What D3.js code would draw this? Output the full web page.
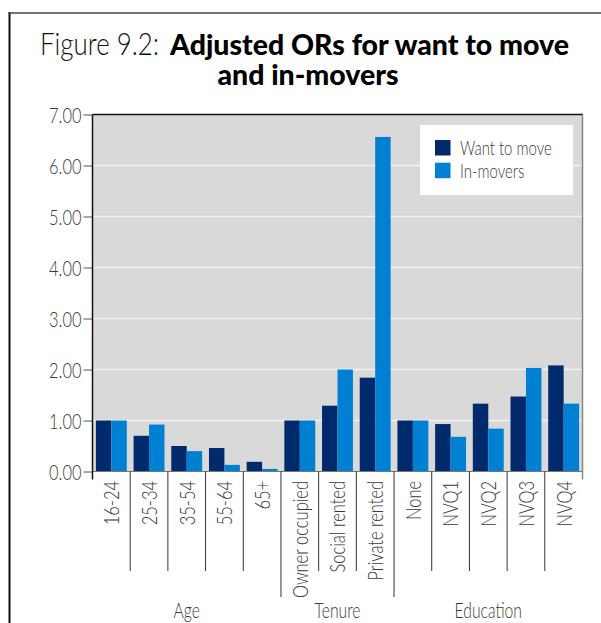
<!DOCTYPE html>
<html>
<head>
<meta charset="utf-8">
<script src="https://cdn.jsdelivr.net/npm/d3@7"></script>
<style>
  body { margin: 0; background: #fff; }
  svg { display: block; }
</style>
</head>
<body>
<svg id="chart" width="601" height="623"></svg>
<script>
// Adjusted odds ratios by category
const categories = ["16-24", "25-34", "35-54", "55-64", "65+",
  "Owner occupied", "Social rented", "Private rented",
  "None", "NVQ1", "NVQ2", "NVQ3", "NVQ4"];
const seriesNames = ["Want to move", "In-movers"];
const wantToMove = [1.00, 0.70, 0.50, 0.46, 0.19, 1.00, 1.29, 1.84, 1.00, 0.93, 1.33, 1.47, 2.08];
const inMovers   = [1.00, 0.92, 0.40, 0.13, 0.05, 1.00, 2.00, 6.56, 1.00, 0.68, 0.84, 2.03, 1.33];
const groupNames = ["Age", "Tenure", "Education"];
const groupSizes = [5, 3, 5];
const yTicks = [0, 1, 2, 3, 4, 5, 6, 7];

const colors = ["#002a6c", "#0080d3"];
const lightFont = "Lato, 'Open Sans', sans-serif";
const boldFont = "Lato, 'Liberation Sans', sans-serif";
const textColor = "#3a3a3a";

const svg = d3.select("#chart");
const plot = { left: 92.5, right: 582.5, top: 114.5, bottom: 471.5 };

// Narrow the glyphs of light text by a fixed ratio
function condense(sel, k) {
  sel.each(function () {
    const w = this.getComputedTextLength();
    d3.select(this).attr("textLength", w * k).attr("lengthAdjust", "spacingAndGlyphs");
  });
}
// Ratio derived from the width a label should take at its font size
const probe = svg.append("text").attr("font-family", lightFont).attr("font-weight", 300)
  .attr("font-size", 22).text("Owner occupied");
const K = 117 / probe.node().getComputedTextLength();
probe.remove();

// Outer frame
svg.append("line").attr("x1", 9.5).attr("x2", 9.5).attr("y1", 12).attr("y2", 623)
  .attr("stroke", "#111").attr("stroke-width", 2);
svg.append("line").attr("x1", 8.5).attr("x2", 601).attr("y1", 13).attr("y2", 13)
  .attr("stroke", "#444").attr("stroke-width", 1.5);

// Title
const titleLight = svg.append("text").attr("x", 40).attr("y", 55)
  .attr("font-family", lightFont).attr("font-weight", 300).attr("font-size", 31)
  .attr("fill", "#111").text("Figure 9.2:");
condense(titleLight, 119 / titleLight.node().getComputedTextLength());
const titleBold1 = svg.append("text").attr("x", 170).attr("y", 55)
  .attr("font-family", boldFont).attr("font-weight", 900).attr("font-size", 28)
  .attr("fill", "#000").text("Adjusted ORs for want to move");
const boldK = 399 / titleBold1.node().getComputedTextLength();
condense(titleBold1, boldK);
const titleBold2 = svg.append("text").attr("x", 308).attr("y", 85).attr("text-anchor", "middle")
  .attr("font-family", boldFont).attr("font-weight", 900).attr("font-size", 28)
  .attr("fill", "#000").text("and in-movers");
condense(titleBold2, boldK);

// Scales
const x = d3.scaleBand().domain(categories).range([plot.left, plot.right]).padding(0);
const xs = d3.scaleBand().domain(seriesNames).range([0, x.bandwidth()])
  .paddingInner(0).paddingOuter(0.22);
const y = d3.scaleLinear().domain([0, 7]).range([plot.bottom, plot.top]);

// Plot background and grid
svg.append("rect").attr("x", plot.left).attr("y", plot.top)
  .attr("width", plot.right - plot.left).attr("height", plot.bottom - plot.top)
  .attr("fill", "#d9d9d9");
svg.append("g").selectAll("line").data(yTicks.filter(d => d > 0 && d < 7)).join("line")
  .attr("x1", plot.left).attr("x2", plot.right)
  .attr("y1", d => y(d)).attr("y2", d => y(d))
  .attr("stroke", "#f2f2f2").attr("stroke-width", 1.5);

// Bars
const series = [wantToMove, inMovers];
series.forEach((vals, si) => {
  svg.append("g").selectAll("rect").data(vals).join("rect")
    .attr("x", (d, i) => x(categories[i]) + xs(seriesNames[si]))
    .attr("width", xs.bandwidth())
    .attr("y", d => y(d))
    .attr("height", d => y(0) - y(d))
    .attr("fill", colors[si]);
});

// Plot borders
svg.append("line").attr("x1", plot.left).attr("x2", plot.right + 0.5)
  .attr("y1", plot.top).attr("y2", plot.top).attr("stroke", "#111").attr("stroke-width", 1.5);
svg.append("line").attr("x1", plot.right).attr("x2", plot.right)
  .attr("y1", plot.top).attr("y2", plot.bottom + 8).attr("stroke", "#888").attr("stroke-width", 1.5);
svg.append("line").attr("x1", plot.left).attr("x2", plot.right)
  .attr("y1", plot.bottom).attr("y2", plot.bottom).attr("stroke", "#777").attr("stroke-width", 1);

// Y axis
const yAxis = svg.append("g").attr("transform", `translate(${plot.left},0)`)
  .call(d3.axisLeft(y).tickValues(yTicks).tickFormat(d3.format(".2f")).tickSize(9).tickPadding(2));
yAxis.select(".domain").remove();
yAxis.selectAll(".tick line").attr("stroke", "#555");
const yLabels = yAxis.selectAll(".tick text").attr("font-family", lightFont).attr("font-weight", 300)
  .attr("font-size", 22).attr("fill", textColor).attr("dy", "0.36em");
condense(yLabels, K);
svg.append("line").attr("x1", plot.left).attr("x2", plot.left)
  .attr("y1", plot.top).attr("y2", plot.bottom + 8).attr("stroke", "#111").attr("stroke-width", 1.5);

// Category dividers: longer ones separate the groups
const groupEnds = d3.cumsum(groupSizes);
const dividers = d3.range(1, categories.length);
svg.append("g").selectAll("line").data(dividers).join("line")
  .attr("x1", i => x(categories[i])).attr("x2", i => x(categories[i]))
  .attr("y1", plot.bottom)
  .attr("y2", i => groupEnds.includes(i) ? 597 : 571)
  .attr("stroke", "#333").attr("stroke-width", 1);

// Category labels, rotated
const catLabels = svg.append("g").selectAll("text").data(categories).join("text")
  .attr("transform", d => `translate(${x(d) + x.bandwidth() / 2},481) rotate(-90)`)
  .attr("text-anchor", "end").attr("dy", "0.36em")
  .attr("font-family", lightFont).attr("font-weight", 300).attr("font-size", 22)
  .attr("fill", textColor)
  .text(d => d);
condense(catLabels, K);

// Group labels
const groupStarts = [0, ...groupEnds.slice(0, -1)];
const groupLabels = svg.append("g").selectAll("text").data(groupNames).join("text")
  .attr("x", (d, gi) => {
    const a = x(categories[groupStarts[gi]]);
    const b = x(categories[groupEnds[gi] - 1]) + x.bandwidth();
    return (a + b) / 2;
  })
  .attr("y", 618).attr("text-anchor", "middle")
  .attr("font-family", lightFont).attr("font-weight", 300).attr("font-size", 21)
  .attr("fill", textColor)
  .text(d => d);
condense(groupLabels, K);

// Legend
const legend = svg.append("g").attr("transform", "translate(420,125)");
legend.append("rect").attr("width", 153).attr("height", 70).attr("fill", "#fff");
seriesNames.forEach((name, i) => {
  const row = legend.append("g").attr("transform", `translate(15,${15 + i * 22.7})`);
  row.append("rect").attr("width", 15.5).attr("height", 15.5).attr("fill", colors[i]);
  const t = row.append("text").attr("x", 25).attr("y", 8).attr("dy", "0.36em")
    .attr("font-family", lightFont).attr("font-weight", 300).attr("font-size", 20)
    .attr("fill", textColor)
    .text(name);
  condense(t, K);
});
</script>
</body>
</html>
